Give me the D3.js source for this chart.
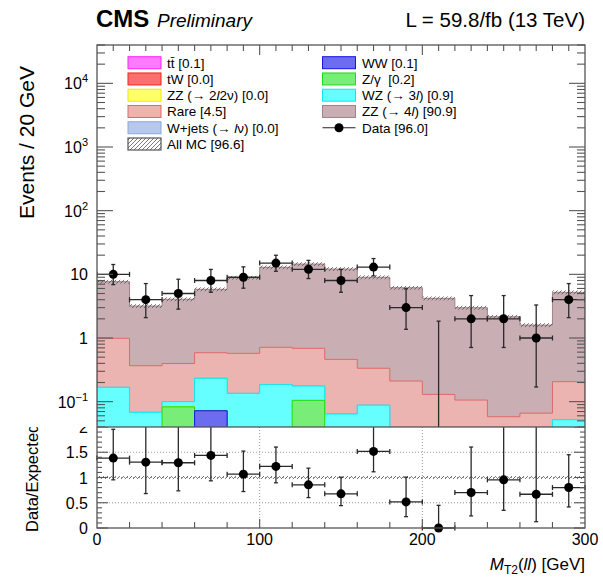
<!DOCTYPE html>
<html>
<head>
<meta charset="utf-8">
<script src="https://cdn.jsdelivr.net/npm/d3@7"></script>
<style>
  body { margin: 0; background: #fff; }
  svg { display: block; font-family: "Liberation Sans", Arial, Helvetica, sans-serif; }
</style>
</head>
<body>
<div id="chart"></div>
<script>
// bin edges of M_T2(ll) in GeV
const binEdges = [0, 20, 40, 60, 80, 100, 120, 140, 160, 180, 200, 220, 240, 260, 280, 300];

// expected events per bin, one array per process (stack order bottom -> top)
const ttbar   = [0, 0, 0, 0, 0, 0, 0, 0, 0, 0.03, 0, 0, 0.03, 0.03, 0];
const tW      = [0, 0, 0, 0, 0, 0, 0, 0, 0, 0, 0, 0, 0, 0, 0];
const WW      = [0, 0, 0, 0.072, 0, 0, 0, 0, 0, 0, 0, 0, 0, 0, 0];
const Zgamma  = [0, 0, 0.083, 0, 0, 0, 0.105, 0, 0, 0, 0, 0, 0, 0, 0];
const ZZ2l2nu = [0, 0, 0.002, 0, 0, 0, 0, 0, 0, 0, 0, 0, 0, 0, 0];
const WZ      = [0.168, 0.068, 0.015, 0.161, 0.135, 0.185, 0.071, 0.064, 0.088, 0, 0, 0, 0, 0, 0.052];
const Wjets   = [0, 0, 0, 0, 0, 0, 0, 0, 0, 0, 0, 0, 0, 0, 0];
const Rare    = [0.822, 0.299, 0.297, 0.354, 0.439, 0.529, 0.513, 0.398, 0.247, 0.181, 0.130, 0.106, 0.028, 0.036, 0.154];
const ZZ4l    = [6.67, 2.81, 3.66, 5.23, 8.28, 12.19, 13.81, 11.64, 8.65, 5.95, 4.07, 2.88, 2.10, 1.53, 5.01];

// observed data with poisson errors
const dataCounts = [10, 4, 5, 8, 9, 15, 12, 8, 13, 3, 0, 2, 2, 1, 4];
const dataErrLow = [3.11, 1.91, 2.16, 2.77, 2.94, 3.83, 3.42, 2.77, 3.56, 1.63, 0, 1.29, 1.29, 0.83, 1.91];
const dataErrHigh = [4.27, 3.16, 3.38, 3.95, 4.11, 4.96, 4.56, 3.95, 4.70, 2.92, 1.84, 2.64, 2.64, 2.30, 3.16];

// data / expected ratio, with lower and upper ends of the error bars
const ratioValues = [1.384, 1.304, 1.292, 1.437, 1.066, 1.219, 0.855, 0.676, 1.517, 0.517, 0, 0.702, 0.954, 0.668, 0.801];
const ratioLow  = [0.954, 0.682, 0.736, 0.934, 0.722, 0.895, 0.602, 0.443, 1.113, 0.225, 0, 0.239, 0.350, 0.125, 0.417];
const ratioHigh = [1.954, 2.30, 2.12, 2.12, 1.523, 1.603, 1.185, 1.006, 2.04, 1.006, 0.449, 1.603, 2.17, 2.10, 1.451];

const yTickPowers = [-1, 0, 1, 2, 3, 4];
const ratioTicks = [0, 0.5, 1, 1.5, 2];
const xTicks = [0, 100, 200, 300];

const processes = [
  { key: "ttbar", values: ttbar, fill: "#ff7aff", line: "#ff22ff" },
  { key: "tW", values: tW, fill: "#ff6e6e", line: "#ff2020" },
  { key: "WW", values: WW, fill: "#6c6cf0", line: "#1515e6" },
  { key: "Zgamma", values: Zgamma, fill: "#78ee78", line: "#18dd18" },
  { key: "ZZ2l2nu", values: ZZ2l2nu, fill: "#ffff6a", line: "#f0e800" },
  { key: "WZ", values: WZ, fill: "#66ffff", line: "#10e8e8" },
  { key: "Wjets", values: Wjets, fill: "#b6c9ec", line: "#8aa8dd" },
  { key: "Rare", values: Rare, fill: "#ecb4b0", line: "#e06868" },
  { key: "ZZ4l", values: ZZ4l, fill: "#c9afb3", line: "#a28289" }
];

const legendLeft = [
  { html: 't<tspan>t\u0304</tspan> [0.1]', key: "ttbar" },
  { html: 'tW [0.0]', key: "tW" },
  { html: 'ZZ (\u2192 2<tspan font-style="italic">l</tspan>2\u03bd) [0.0]', key: "ZZ2l2nu" },
  { html: 'Rare [4.5]', key: "Rare" },
  { html: 'W+jets (\u2192 <tspan font-style="italic">l</tspan>\u03bd) [0.0]', key: "Wjets" },
  { html: 'All MC [96.6]', key: "allmc" }
];
const legendRight = [
  { html: 'WW [0.1]', key: "WW" },
  { html: 'Z/\u03b3&#160; [0.2]', key: "Zgamma" },
  { html: 'WZ (\u2192 3<tspan font-style="italic">l</tspan>) [0.9]', key: "WZ" },
  { html: 'ZZ (\u2192 4<tspan font-style="italic">l</tspan>) [90.9]', key: "ZZ4l" },
  { html: 'Data [96.0]', key: "data" }
];

const width = 603, height = 580;
const frame = { left: 97, right: 585, top: 45, mid: 427, bottom: 528 };
const yMin = 0.04, yMax = 40000;

const svg = d3.select("#chart").append("svg")
  .attr("width", width).attr("height", height);

const defs = svg.append("defs");
const hatch = defs.append("pattern")
  .attr("id", "hatch").attr("patternUnits", "userSpaceOnUse")
  .attr("width", 4).attr("height", 4);
hatch.append("path").attr("d", "M-1,1 l2,-2 M0,4 l4,-4 M3,5 l2,-2")
  .attr("stroke", "#555").attr("stroke-width", 0.8);

defs.append("clipPath").attr("id", "mainClip").append("rect")
  .attr("x", frame.left).attr("y", frame.top)
  .attr("width", frame.right - frame.left).attr("height", frame.mid - frame.top);
defs.append("clipPath").attr("id", "ratioClip").append("rect")
  .attr("x", 0).attr("y", frame.mid).attr("width", width).attr("height", height - frame.mid);

const x = d3.scaleLinear().domain([0, 300]).range([frame.left, frame.right]);
const y = d3.scaleLog().domain([yMin, yMax]).range([frame.mid, frame.top]);
const yr = d3.scaleLinear().domain([0, 2]).range([frame.bottom, frame.mid]);
const ySafe = (v) => y(Math.max(v, 1e-3));

const nBins = binEdges.length - 1;
const binIdx = d3.range(nBins);

// ---------- main pad ----------
const main = svg.append("g");
const stackG = main.append("g").attr("clip-path", "url(#mainClip)");

// cumulative sums, drawn from the top of the stack downwards
const cumulative = [];
processes.forEach((p, i) => {
  const prev = i ? cumulative[i - 1] : binIdx.map(() => 0);
  cumulative.push(binIdx.map((b) => prev[b] + p.values[b]));
});

const stepLine = d3.line();
function stepPoints(vals) {
  const pts = [[x(binEdges[0]), ySafe(1e-4)]];
  binIdx.forEach((b) => {
    pts.push([x(binEdges[b]), ySafe(vals[b])]);
    pts.push([x(binEdges[b + 1]), ySafe(vals[b])]);
  });
  pts.push([x(binEdges[nBins]), ySafe(1e-4)]);
  return pts;
}

for (let i = processes.length - 1; i >= 0; i--) {
  const p = processes[i];
  stackG.append("path")
    .attr("d", stepLine(stepPoints(cumulative[i])) + "Z")
    .attr("fill", p.fill)
    .attr("stroke", p.line)
    .attr("stroke-width", 1);
}

// MC uncertainty band on the total
const total = cumulative[cumulative.length - 1];
stackG.selectAll("rect.unc").data(binIdx).enter().append("rect")
  .attr("x", (b) => x(binEdges[b]))
  .attr("width", (b) => x(binEdges[b + 1]) - x(binEdges[b]))
  .attr("y", (b) => y(total[b] * 1.07))
  .attr("height", (b) => y(total[b] * 0.93) - y(total[b] * 1.07))
  .attr("fill", "url(#hatch)");

// data points
const dataG = stackG.append("g").attr("stroke", "#2a2a2a").attr("stroke-width", 1.3);
binIdx.forEach((b) => {
  const cx = x((binEdges[b] + binEdges[b + 1]) / 2);
  const cy = ySafe(dataCounts[b]);
  const lo = ySafe(dataCounts[b] - dataErrLow[b]);
  const hi = ySafe(dataCounts[b] + dataErrHigh[b]);
  const x0 = x(binEdges[b]), x1 = x(binEdges[b + 1]);
  dataG.append("line").attr("x1", x0).attr("x2", x1).attr("y1", cy).attr("y2", cy);
  dataG.append("line").attr("x1", x0).attr("x2", x0).attr("y1", cy - 2.5).attr("y2", cy + 2.5);
  dataG.append("line").attr("x1", x1).attr("x2", x1).attr("y1", cy - 2.5).attr("y2", cy + 2.5);
  dataG.append("line").attr("x1", cx).attr("x2", cx).attr("y1", lo).attr("y2", hi);
  dataG.append("line").attr("x1", cx - 2).attr("x2", cx + 2).attr("y1", hi).attr("y2", hi);
  if (dataCounts[b] > 0) {
    dataG.append("line").attr("x1", cx - 2).attr("x2", cx + 2).attr("y1", lo).attr("y2", lo);
  }
  dataG.append("circle").attr("cx", cx).attr("cy", cy).attr("r", 4.5)
    .attr("fill", "#000").attr("stroke", "none");
});

// frame and ticks of main pad
const axisColor = "#555";
main.append("rect")
  .attr("x", frame.left).attr("y", frame.top)
  .attr("width", frame.right - frame.left).attr("height", frame.mid - frame.top)
  .attr("fill", "none").attr("stroke", axisColor).attr("stroke-width", 1.3);

const ticksG = main.append("g").attr("stroke", axisColor).attr("stroke-width", 1.1);
for (let p = -2; p <= 4; p++) {
  for (let m = 1; m <= 9; m++) {
    const v = m * Math.pow(10, p);
    if (v < yMin || v > yMax) continue;
    const len = m === 1 ? 16 : 8;
    ticksG.append("line").attr("x1", frame.left).attr("x2", frame.left + len)
      .attr("y1", y(v)).attr("y2", y(v));
    ticksG.append("line").attr("x1", frame.right).attr("x2", frame.right - len)
      .attr("y1", y(v)).attr("y2", y(v));
  }
}
d3.range(10, 300, 10).forEach((g) => {
  ticksG.append("line").attr("x1", x(g)).attr("x2", x(g))
    .attr("y1", frame.top).attr("y2", frame.top + (g % 100 === 0 ? 10 : 6));
});

// y tick labels (powers of ten)
yTickPowers.forEach((p) => {
  const t = main.append("text")
    .attr("x", 88).attr("y", y(Math.pow(10, p)) + 6)
    .attr("text-anchor", "end").attr("font-size", 16).attr("fill", "#000");
  if (p === 0) t.text("1");
  else if (p === 1) t.text("10");
  else {
    t.append("tspan").text("10");
    t.append("tspan").attr("dy", -7).attr("font-size", 11)
      .text(p < 0 ? "\u2212" + (-p) : String(p));
  }
});

main.append("text")
  .attr("transform", "translate(34,66) rotate(-90)")
  .attr("text-anchor", "end").attr("font-size", 21).attr("fill", "#000")
  .text("Events / 20 GeV");

// header
svg.append("text").attr("x", 96).attr("y", 27)
  .attr("font-size", 24).attr("font-weight", "bold").text("CMS");
svg.append("text").attr("x", 157).attr("y", 27)
  .attr("font-size", 19).attr("font-style", "italic").text("Preliminary");
svg.append("text").attr("x", frame.right).attr("y", 27)
  .attr("text-anchor", "end").attr("font-size", 20.5).text("L = 59.8/fb (13 TeV)");

// legend
const styleByKey = Object.fromEntries(processes.map((p) => [p.key, p]));
function drawLegend(entries, swatchX, textX) {
  entries.forEach((e, i) => {
    const cy = 62.7 + i * 16.26;
    if (e.key === "data") {
      main.append("line").attr("x1", swatchX).attr("x2", swatchX + 33)
        .attr("y1", cy).attr("y2", cy).attr("stroke", "#222").attr("stroke-width", 1.2);
      main.append("circle").attr("cx", swatchX + 16.5).attr("cy", cy).attr("r", 4.5).attr("fill", "#000");
    } else if (e.key === "allmc") {
      main.append("rect").attr("x", swatchX).attr("y", cy - 6).attr("width", 33).attr("height", 12)
        .attr("fill", "url(#hatch)").attr("stroke", "#555").attr("stroke-width", 1.2);
    } else {
      const s = styleByKey[e.key];
      main.append("rect").attr("x", swatchX).attr("y", cy - 6).attr("width", 33).attr("height", 12)
        .attr("fill", s.fill).attr("stroke", s.line).attr("stroke-width", 1);
    }
    main.append("text").attr("x", textX).attr("y", cy + 5)
      .attr("font-size", 13.5).attr("fill", "#000").html(e.html);
  });
}
drawLegend(legendLeft, 128, 167);
drawLegend(legendRight, 322.5, 362);

// ---------- ratio pad ----------
const ratio = svg.append("g").attr("clip-path", "url(#ratioClip)");
ratio.append("rect").attr("x", 0).attr("y", frame.mid).attr("width", width).attr("height", height - frame.mid)
  .attr("fill", "#fff");

const gridG = ratio.append("g").attr("stroke", "#999").attr("stroke-width", 1).attr("stroke-dasharray", "1,2");
[0.5, 1, 1.5].forEach((v) => {
  gridG.append("line").attr("x1", frame.left).attr("x2", frame.right).attr("y1", yr(v)).attr("y2", yr(v));
});
[100, 200].forEach((g) => {
  gridG.append("line").attr("x1", x(g)).attr("x2", x(g)).attr("y1", frame.mid).attr("y2", frame.bottom);
});

// MC uncertainty around unity
ratio.append("rect").attr("x", frame.left).attr("width", frame.right - frame.left)
  .attr("y", yr(1.03)).attr("height", yr(0.97) - yr(1.03)).attr("fill", "url(#hatch)");

const rG = ratio.append("g").attr("stroke", "#2a2a2a").attr("stroke-width", 1.3);
binIdx.forEach((b) => {
  const cx = x((binEdges[b] + binEdges[b + 1]) / 2);
  const cy = yr(ratioValues[b]);
  const x0 = x(binEdges[b]), x1 = x(binEdges[b + 1]);
  const lo = yr(ratioLow[b]), hi = yr(ratioHigh[b]);
  rG.append("line").attr("x1", x0).attr("x2", x1).attr("y1", cy).attr("y2", cy);
  rG.append("line").attr("x1", x0).attr("x2", x0).attr("y1", cy - 2.5).attr("y2", cy + 2.5);
  rG.append("line").attr("x1", x1).attr("x2", x1).attr("y1", cy - 2.5).attr("y2", cy + 2.5);
  rG.append("line").attr("x1", cx).attr("x2", cx).attr("y1", lo).attr("y2", hi);
  rG.append("line").attr("x1", cx - 2).attr("x2", cx + 2).attr("y1", hi).attr("y2", hi);
  if (ratioValues[b] > 0) {
    rG.append("line").attr("x1", cx - 2).attr("x2", cx + 2).attr("y1", lo).attr("y2", lo);
  }
  rG.append("circle").attr("cx", cx).attr("cy", cy).attr("r", 4.5).attr("fill", "#000").attr("stroke", "none");
});

ratio.append("rect")
  .attr("x", frame.left).attr("y", frame.mid)
  .attr("width", frame.right - frame.left).attr("height", frame.bottom - frame.mid)
  .attr("fill", "none").attr("stroke", axisColor).attr("stroke-width", 1.3);

const rTicks = ratio.append("g").attr("stroke", axisColor).attr("stroke-width", 1.1);
d3.range(0, 2.01, 0.1).forEach((v) => {
  const major = Math.abs(v * 2 - Math.round(v * 2)) < 1e-6;
  const len = major ? 11 : 5;
  rTicks.append("line").attr("x1", frame.left).attr("x2", frame.left + len).attr("y1", yr(v)).attr("y2", yr(v));
  rTicks.append("line").attr("x1", frame.right).attr("x2", frame.right - len).attr("y1", yr(v)).attr("y2", yr(v));
});
d3.range(20, 300, 20).forEach((g) => {
  const len = g % 100 === 0 ? 9 : 6;
  rTicks.append("line").attr("x1", x(g)).attr("x2", x(g)).attr("y1", frame.bottom).attr("y2", frame.bottom - len);
});

ratioTicks.forEach((v) => {
  ratio.append("text").attr("x", 88).attr("y", yr(v) + 6)
    .attr("text-anchor", "end").attr("font-size", 16).text(String(v));
});
xTicks.forEach((g) => {
  ratio.append("text").attr("x", x(g)).attr("y", 545)
    .attr("text-anchor", "middle").attr("font-size", 16).text(String(g));
});

ratio.append("text")
  .attr("transform", "translate(38,532) rotate(-90)")
  .attr("font-size", 16.5).text("Data/Expected");

const xTitle = ratio.append("text").attr("x", frame.right).attr("y", 570)
  .attr("text-anchor", "end").attr("font-size", 17);
xTitle.append("tspan").attr("font-style", "italic").text("M");
xTitle.append("tspan").attr("font-size", 12).attr("dy", 4).text("T2");
xTitle.append("tspan").attr("dy", -4).text("(");
xTitle.append("tspan").attr("font-style", "italic").text("ll");
xTitle.append("tspan").text(") [GeV]");
</script>
</body>
</html>
